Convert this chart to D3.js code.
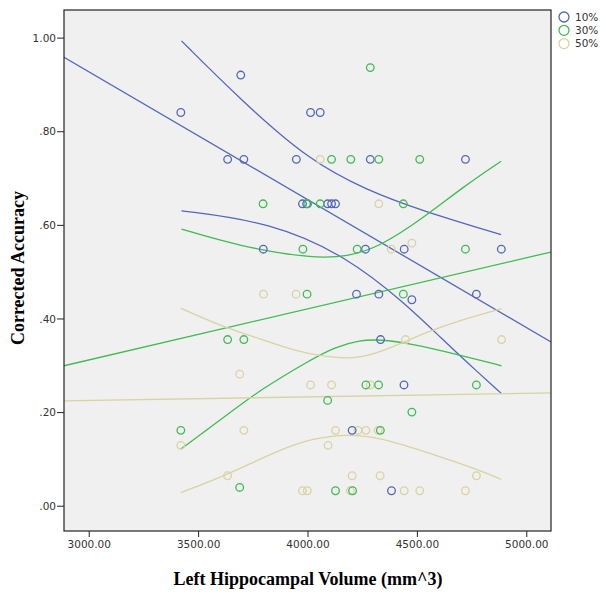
<!DOCTYPE html>
<html>
<head>
<meta charset="utf-8">
<script src="https://cdn.jsdelivr.net/npm/d3@7"></script>
<style>
    body { margin: 0; background: #fff; }
    .tick text { font-family: "DejaVu Sans", sans-serif; font-size: 10.5px; fill: #333; }
    .axis-title { font-family: "Liberation Serif", "Times New Roman", serif; font-weight: bold; font-size: 18px; fill: #000; }
    .legend text { font-family: "DejaVu Sans", sans-serif; font-size: 10.5px; fill: #333; }
</style>
</head>
<body>
<div id="chart"></div>
<script>
// tick values
const xTicks = [3000, 3500, 4000, 4500, 5000];
const yTicks = [0, 0.2, 0.4, 0.6, 0.8, 1.0];
const groups = ["10%", "30%", "50%"];

// [left hippocampal volume, corrected accuracy]
const points10 = [
    [3421, 0.84], [3695, 0.92], [4014, 0.84], [4058, 0.84],
    [3635, 0.74], [3709, 0.74], [3949, 0.74], [4287, 0.74], [4722, 0.74],
    [3977, 0.645], [3996, 0.645], [4092, 0.645], [4110, 0.645], [4128, 0.645],
    [3798, 0.548], [4265, 0.548], [4442, 0.548], [4886, 0.548],
    [4224, 0.452], [4326, 0.452], [4772, 0.452], [4477, 0.44],
    [4334, 0.355], [4441, 0.258], [4204, 0.161], [4384, 0.032]
];
const points30 = [
    [4287, 0.936],
    [4110, 0.74], [4198, 0.74], [4326, 0.74], [4513, 0.74],
    [3797, 0.645], [4001, 0.645], [4058, 0.645], [4438, 0.645],
    [3979, 0.548], [4227, 0.548], [4722, 0.548],
    [3998, 0.452], [4438, 0.452],
    [3635, 0.355], [3709, 0.355],
    [4267, 0.258], [4325, 0.258], [4772, 0.258],
    [4092, 0.225], [4477, 0.20],
    [3421, 0.161], [4333, 0.161],
    [3690, 0.039], [4128, 0.032], [4206, 0.032]
];
const points50 = [
    [4058, 0.74], [4326, 0.645], [4477, 0.561], [4383, 0.548],
    [3799, 0.452], [3948, 0.452],
    [4448, 0.355], [4887, 0.355],
    [3690, 0.281],
    [4014, 0.258], [4110, 0.258], [4287, 0.258],
    [3709, 0.161], [4128, 0.161], [4231, 0.161], [4267, 0.161], [4323, 0.161],
    [3421, 0.129], [4094, 0.129],
    [3635, 0.064], [4204, 0.064], [4332, 0.064], [4772, 0.064],
    [3977, 0.032], [3999, 0.032], [4196, 0.032], [4442, 0.032], [4513, 0.032], [4722, 0.032]
];

// linear fit lines (end points across the axis)
const fit10 = [[2887, 0.958], [5113, 0.350]];
const fit30 = [[2887, 0.299], [5113, 0.542]];
const fit50 = [[2887, 0.224], [5113, 0.241]];

// confidence bands
const upper10 = [[3424, 0.993], [3697, 0.866], [4006, 0.738], [4271, 0.674], [4518, 0.631], [4885, 0.579]];
const lower10 = [[3424, 0.630], [3830, 0.606], [4182, 0.532], [4447, 0.432], [4620, 0.354], [4727, 0.307], [4886, 0.240]];
const upper30 = [[3424, 0.591], [3691, 0.554], [4024, 0.528], [4182, 0.532], [4330, 0.553], [4528, 0.614], [4711, 0.681], [4885, 0.736]];
const lower30 = [[3421, 0.121], [3630, 0.193], [3782, 0.247], [4011, 0.311], [4125, 0.339], [4240, 0.354], [4331, 0.355], [4467, 0.347], [4696, 0.322], [4887, 0.299]];
const upper50 = [[3421, 0.422], [3630, 0.379], [3782, 0.357], [3934, 0.332], [4087, 0.317], [4239, 0.313], [4391, 0.339], [4544, 0.371], [4696, 0.396], [4887, 0.421]];
const lower50 = [[3421, 0.028], [3630, 0.065], [3874, 0.120], [4026, 0.144], [4178, 0.153], [4330, 0.146], [4559, 0.112], [4787, 0.076], [4886, 0.056]];

const colors = {"10%": "#5266bd", "30%": "#3fbb50", "50%": "#d8d3a2"};

let margin = {top: 10, left: 64};
let width = 487, height = 521;

let svg = d3.select("#chart").append("svg")
    .attr("width", 605)
    .attr("height", 592);

let g = svg.append("g")
    .attr("transform", `translate(${margin.left}, ${margin.top})`);

let x = d3.scaleLinear().domain([2887, 5113]).range([0, width]);
let y = d3.scaleLinear().domain([-0.054, 1.059]).range([height, 0]);

// plot background
g.append("rect")
    .attr("width", width)
    .attr("height", height)
    .attr("fill", "#f0f0f0");

g.append("clipPath").attr("id", "clip")
    .append("rect").attr("width", width).attr("height", height);

// axes
let yAxis = g.append("g")
    .call(d3.axisLeft(y).tickValues(yTicks).tickSize(7).tickSizeOuter(0)
        .tickFormat(d => d3.format(".2f")(d).replace(/^0/, "")));
let xAxis = g.append("g")
    .attr("transform", `translate(0, ${height})`)
    .call(d3.axisBottom(x).tickValues(xTicks).tickSize(6).tickSizeOuter(0)
        .tickFormat(d3.format(".2f")));
yAxis.select(".domain").remove();
xAxis.select(".domain").remove();
yAxis.selectAll(".tick text").attr("x", -8).attr("dy", "0.35em");
xAxis.selectAll(".tick text").attr("y", 10);
g.selectAll(".tick line").attr("stroke", "#222");

let line = d3.line().x(d => x(d[0])).y(d => y(d[1]));
let curve = d3.line().x(d => x(d[0])).y(d => y(d[1])).curve(d3.curveBasis);

let lines = g.append("g").attr("clip-path", "url(#clip)");
[[fit10, upper10, lower10, "10%"], [fit30, upper30, lower30, "30%"], [fit50, upper50, lower50, "50%"]]
    .forEach(([fit, up, lo, key]) => {
        lines.append("path").attr("d", line(fit))
            .attr("fill", "none").attr("stroke", colors[key]).attr("stroke-width", 1.3);
        [up, lo].forEach(band => {
            lines.append("path").attr("d", curve(band))
                .attr("fill", "none").attr("stroke", colors[key]).attr("stroke-width", 1.3);
        });
    });

// points
[[points50, "50%"], [points10, "10%"], [points30, "30%"]].forEach(([pts, key]) => {
    g.append("g").selectAll("circle")
        .data(pts)
        .enter().append("circle")
        .attr("cx", d => x(d[0]))
        .attr("cy", d => y(d[1]))
        .attr("r", 3.8)
        .attr("fill", "none")
        .attr("stroke", colors[key])
        .attr("stroke-width", 1.3);
});

// frame
g.append("rect")
    .attr("width", width)
    .attr("height", height)
    .attr("fill", "none")
    .attr("stroke", "#222")
    .attr("stroke-width", 1.2);

// axis titles
svg.append("text")
    .attr("class", "axis-title")
    .attr("text-anchor", "middle")
    .attr("x", 308)
    .attr("y", 585)
    .text("Left Hippocampal Volume (mm^3)");

svg.append("text")
    .attr("class", "axis-title")
    .attr("text-anchor", "middle")
    .attr("transform", "translate(24, 268) rotate(-90)")
    .text("Corrected Accuracy");

// legend
let legend = svg.append("g").attr("class", "legend")
    .attr("transform", "translate(564, 17)");
groups.forEach((key, i) => {
    legend.append("circle")
        .attr("cx", 0).attr("cy", i * 13.3)
        .attr("r", 5)
        .attr("fill", "none")
        .attr("stroke", colors[key])
        .attr("stroke-width", 1.3);
    legend.append("text")
        .attr("x", 11).attr("y", i * 13.3)
        .attr("dy", "0.35em")
        .text(key);
});
</script>
</body>
</html>
